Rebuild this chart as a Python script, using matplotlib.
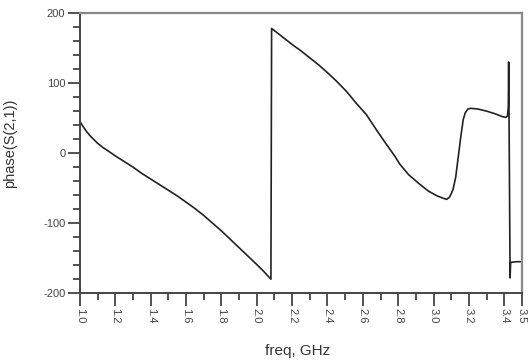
import numpy as np
import matplotlib.pyplot as plt
from matplotlib.ticker import MultipleLocator

plt.rcParams['font.family'] = ['Liberation Sans', 'DejaVu Sans']
plt.rcParams['axes.unicode_minus'] = False

# values
freq = [1.00, 1.02, 1.04, 1.06, 1.08, 1.10, 1.13, 1.16, 1.20, 1.25, 1.30,
        1.35, 1.40, 1.45, 1.50, 1.55, 1.60, 1.65, 1.70, 1.75, 1.80, 1.85,
        1.90, 1.95, 2.00, 2.04, 2.08,
        2.084, 2.15, 2.206, 2.25, 2.30, 2.35, 2.395, 2.45, 2.508, 2.56, 2.62,
        2.68, 2.735, 2.78, 2.81, 2.86, 2.92, 2.97, 3.02, 3.05, 3.074, 3.09,
        3.10, 3.11, 3.125, 3.14, 3.155, 3.168, 3.18, 3.195, 3.21, 3.25, 3.30,
        3.35, 3.39, 3.41, 3.418, 3.421, 3.423, 3.425, 3.429, 3.433, 3.436,
        3.47, 3.50]
phase = [45, 37, 30, 24, 19, 14, 8, 3, -4, -12, -20,
         -29, -37, -45, -53, -61, -70, -79, -89, -100, -111, -123,
         -135, -147, -159, -169, -180,
         178, 165, 154, 146, 136, 126, 116, 103, 88, 72, 55,
         32, 12, -4, -16, -31, -44, -54, -61, -64, -66, -63,
         -58, -52, -35, -5, 25, 48, 58, 63, 64, 63, 60,
         56, 52, 51, 53, 60, 67, 130, -20, -178, -156,
         -155, -155]

fig = plt.figure(figsize=(5.28, 3.62), dpi=100)
ax = fig.add_axes([0.1515, 0.19, 0.837, 0.774])

ax.plot(freq, phase, color='#222222', lw=1.2)

ax.set_xlim(1.0, 3.5)
ax.set_ylim(-200, 200)
ax.xaxis.set_minor_locator(MultipleLocator(0.1))
ax.yaxis.set_major_locator(MultipleLocator(100))
ax.yaxis.set_minor_locator(MultipleLocator(20))
xt = list(np.arange(1.0, 3.41, 0.2)) + [3.5]
ax.set_xticks(xt)
ax.set_xticklabels(['%.1f' % v for v in xt], rotation=270)

ax.tick_params(which='major', direction='out', length=9, width=1.3,
               color='#444444', labelsize=8, labelcolor='#444444', pad=1.5)
ax.tick_params(which='minor', direction='out', length=5, width=1.3,
               color='#444444')
ax.tick_params(axis='y', which='both', right=False)
ax.tick_params(axis='x', which='both', top=False)

for s in ['left', 'bottom']:
    ax.spines[s].set_color('#444444')
    ax.spines[s].set_linewidth(1.4)
for s in ['top', 'right']:
    ax.spines[s].set_color('#888888')
    ax.spines[s].set_linewidth(1.6)

ax.set_xlabel('freq, GHz', fontsize=11, color='#333333')
ax.set_ylabel('phase(S(2,1))', fontsize=10.5, color='#333333')
ax.xaxis.set_label_coords(0.493, -0.18)
ax.yaxis.set_label_coords(-0.142, 0.536)

fig.savefig('out.png', dpi=100)
